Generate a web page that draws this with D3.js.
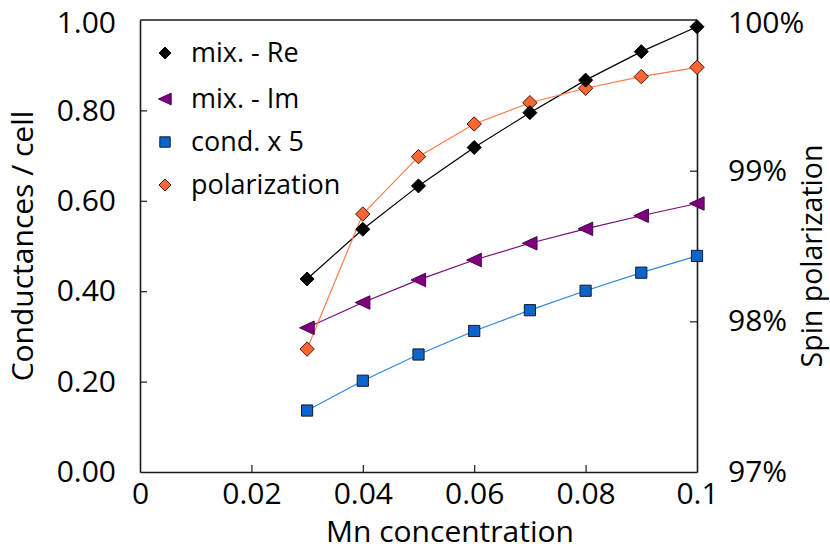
<!DOCTYPE html>
<html>
<head>
<meta charset="utf-8">
<script src="https://cdn.jsdelivr.net/npm/d3@7/dist/d3.min.js"></script>
<style>
  html, body { margin: 0; padding: 0; background: #fff; }
  svg { display: block; font-family: "Open Sans", "Noto Sans", sans-serif; }
</style>
</head>
<body>
<svg id="chart" width="830" height="550"></svg>
<script>
// Mn concentration (x) and the four measured series
const concentration = [0.03, 0.04, 0.05, 0.06, 0.07, 0.08, 0.09, 0.10];
const mixRe = [0.427, 0.537, 0.633, 0.718, 0.795, 0.867, 0.930, 0.985];
const mixIm = [0.319, 0.375, 0.425, 0.469, 0.506, 0.538, 0.567, 0.594];
const condX5 = [0.136, 0.202, 0.260, 0.312, 0.358, 0.401, 0.441, 0.478];
const polarization = [97.816, 98.712, 99.093, 99.310, 99.451, 99.547, 99.624, 99.686];

const xTicks = [0, 0.02, 0.04, 0.06, 0.08, 0.1];
const xTickLabels = ["0", "0.02", "0.04", "0.06", "0.08", "0.1"];
const yLeftTicks = [0, 0.2, 0.4, 0.6, 0.8, 1.0];
const yRightTicks = [97, 98, 99, 100];

const svg = d3.select("#chart");
const L = 140, R = 697, T = 20, B = 472;

const x = d3.scaleLinear().domain([0, 0.1]).range([L, R]);
const yL = d3.scaleLinear().domain([0, 1]).range([B, T]);
const yR = d3.scaleLinear().domain([97, 100]).range([B, T]);

const axisColor = "#1a1a1a";

// Axes with inward ticks
const gx = svg.append("g").attr("transform", `translate(0,${B})`)
  .call(d3.axisBottom(x).tickValues(xTicks)
    .tickFormat((d, i) => xTickLabels[i]).tickSizeInner(-7).tickSizeOuter(0).tickPadding(14));
const gyl = svg.append("g").attr("transform", `translate(${L},0)`)
  .call(d3.axisLeft(yL).tickValues(yLeftTicks)
    .tickFormat(d3.format(".2f")).tickSizeInner(-7).tickSizeOuter(0).tickPadding(24));
const gyr = svg.append("g").attr("transform", `translate(${R},0)`)
  .call(d3.axisRight(yR).tickValues(yRightTicks)
    .tickFormat(d => d + "%").tickSizeInner(-7).tickSizeOuter(0).tickPadding(31));

[gx, gyl, gyr].forEach(g => {
  g.select(".domain").attr("stroke", axisColor).attr("stroke-width", 1.6);
  g.selectAll(".tick line").attr("stroke", axisColor).attr("stroke-width", 1.2);
  g.selectAll(".tick text").attr("fill", "#000").attr("font-size", 30)
    .attr("font-family", "'Open Sans', sans-serif");
});
gx.selectAll(".tick text").attr("dy", "0.71em").attr("y", 11);
// keep the topmost labels inside the canvas
gyl.selectAll(".tick text").filter(d => d === 1).attr("y", 2.5);
gyr.selectAll(".tick text").filter(d => d === 100).attr("y", 2.5);
// ticks at the ends of each axis coincide with the frame
gx.selectAll(".tick line").filter(d => d === 0 || d === 0.1).remove();
gyl.selectAll(".tick line").filter(d => d === 0 || d === 1).remove();
gyr.selectAll(".tick line").filter(d => d === 97 || d === 100).remove();

// top frame line
svg.append("line").attr("x1", L).attr("x2", R).attr("y1", T).attr("y2", T)
  .attr("stroke", axisColor).attr("stroke-width", 1.6);

// Axis titles
svg.append("text").attr("x", 450).attr("y", 542).attr("text-anchor", "middle")
  .attr("font-size", 30).text("Mn concentration");
svg.append("text").attr("transform", "translate(33,246) rotate(-90)")
  .attr("text-anchor", "middle").attr("font-size", 30).text("Conductances / cell");
svg.append("text").attr("transform", "translate(822,256) rotate(-90)")
  .attr("text-anchor", "middle").attr("font-size", 28.5).text("Spin polarization");

// Marker shapes
const diamond = (s) => `M0,${-s}L${s},0L0,${s}L${-s},0Z`;
const square = (s) => `M${-s},${-s}H${s}V${s}H${-s}Z`;
const triLeft = (s) => `M${-s},0L${s*0.95},${-s*0.9}L${s*0.95},${s*0.9}Z`;

const series = [
  { name: "mix. - Re", values: mixRe, y: yL, line: "#000000", fill: "#000000", stroke: "#000000",
    shape: diamond, size: 7, legendSize: 6 },
  { name: "mix. - Im", values: mixIm, y: yL, line: "#7a0a7a", fill: "#7f007f", stroke: "#4a004a",
    shape: triLeft, size: 7.5, legendSize: 6.5 },
  { name: "cond. x 5", values: condX5, y: yL, line: "#2d86e0", fill: "#0a66cc", stroke: "#1a1a2a",
    shape: square, size: 5.6, legendSize: 5.2 },
  { name: "polarization", values: polarization, y: yR, line: "#ff7a4a", fill: "#ff6633", stroke: "#3a1a10",
    shape: diamond, size: 7.2, legendSize: 6 }
];

// Lines first, then markers on top (black series drawn last)
const lineGen = (yScale) => d3.line().x((d, i) => x(concentration[i])).y(d => yScale(d));

series.forEach(s => {
  svg.append("path").datum(s.values)
    .attr("d", lineGen(s.y)).attr("fill", "none")
    .attr("stroke", s.line).attr("stroke-width", 1.2);
});
series.slice().reverse().forEach(s => {
  svg.append("g").selectAll("path").data(s.values).join("path")
    .attr("transform", (d, i) => `translate(${x(concentration[i])},${s.y(d)})`)
    .attr("d", s.shape(s.size))
    .attr("fill", s.fill).attr("stroke", s.stroke).attr("stroke-width", 1);
});

// Legend
const legendRows = [53, 99, 142, 185];
series.forEach((s, i) => {
  const g = svg.append("g").attr("transform", `translate(165,${legendRows[i]})`);
  g.append("path").attr("d", s.shape(s.legendSize))
    .attr("fill", s.fill).attr("stroke", s.stroke).attr("stroke-width", 1);
  g.append("text").attr("x", 26).attr("dy", "0.35em").attr("font-size", 27).text(s.name);
});
</script>
</body>
</html>
